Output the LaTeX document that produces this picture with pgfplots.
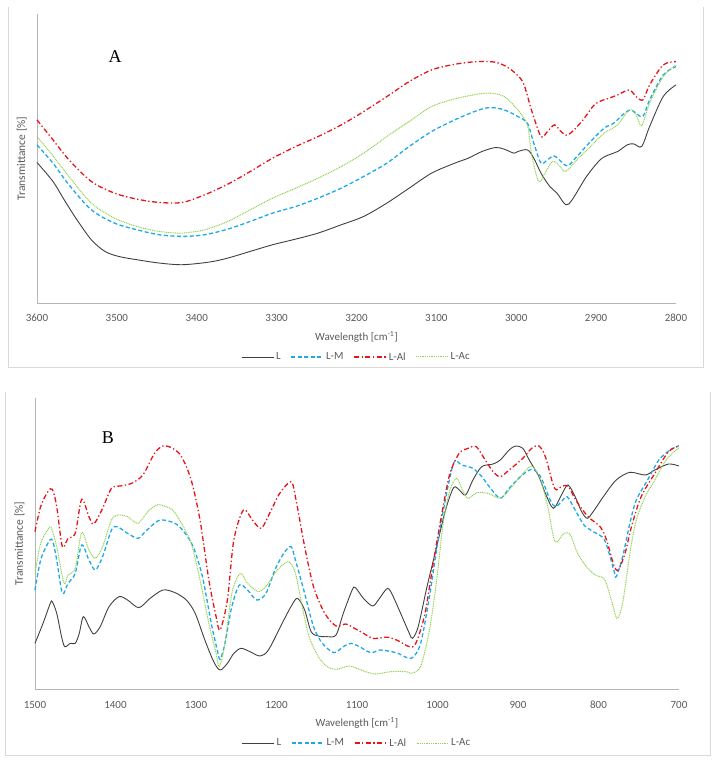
\documentclass[border=0pt]{standalone}
\usepackage{pgfplots}
\pgfplotsset{compat=1.18}
\usepackage{fontspec}
\setmainfont{Carlito}
\newfontfamily\timesfont{Liberation Serif}

\definecolor{cL}{HTML}{404040}
\definecolor{cM}{HTML}{1CA9E6}
\definecolor{cAl}{HTML}{E8141B}
\definecolor{cAc}{HTML}{92D050}
\definecolor{axgray}{HTML}{B5B5B5}
\definecolor{boxgray}{HTML}{D9D9D9}
\definecolor{txt}{HTML}{595959}

\pgfplotsset{
  irstyle/.style={
    scale only axis,
    axis x line=bottom, axis y line=left,
    axis line style={-, axgray, line width=0.9pt},
    x dir=reverse,
    ytick=\empty,
    major tick length=0pt,
    /pgf/number format/assume math mode=true,
    /pgf/number format/1000 sep={},
    tick label style={font=\fontsize{11}{13}\selectfont, text=txt},
    xticklabel style={anchor=center, yshift=-15pt},
    every axis x label/.style={at={(axis description cs:0.5,0)}, anchor=center, yshift=-34pt, font=\fontsize{11}{13}\selectfont, text=txt},
    every axis y label/.style={at={(axis description cs:-0.024,0.5)}, anchor=center, rotate=90, font=\fontsize{11.5}{13}\selectfont, text=txt},
    xlabel={Wavelength [cm\textsuperscript{-1}]},
    ylabel={Transmittance [\%]},
    legend style={draw=none, fill=none, font=\fontsize{11}{13}\selectfont, legend columns=4,
      at={(axis description cs:0.5,0)}, anchor=center, yshift=-54pt,
      /tikz/every even column/.append style={column sep=8pt}},
    legend image code/.code={\draw[##1] (0pt,0pt) -- (32pt,0pt);},
    clip=false,
  },
  sL/.style={cL, line width=0.9pt, smooth},
  sM/.style={cM, line width=1.3pt, dash pattern=on 4pt off 2.5pt, smooth},
  sAl/.style={cAl, line width=1.3pt, dash pattern=on 5pt off 2.5pt on 1.3pt off 2.5pt, smooth},
  sAc/.style={cAc, line width=1pt, dash pattern=on 1pt off 0.8pt, smooth},
}

\begin{document}
\begin{tikzpicture}[x=1pt,y=1pt]
\path[use as bounding box] (0,0) rectangle (712,763);
\draw[boxgray, line width=1pt] (8,756) -- (8,395) -- (703,395) -- (703,756);
\draw[boxgray, line width=1pt] (5,371) -- (5,7) -- (710,7) -- (710,371);

% Panel A
\begin{axis}[irstyle, at={(37pt,460pt)}, anchor=south west, width=639pt, height=289pt,
  xmin=2800, xmax=3600, ymin=0, ymax=868,
  xtick={2800,2900,...,3600}]
\addplot[sL] coordinates {(3600,422) (3580,365) (3566,310) (3550,250) (3532,190) (3515,155) (3498,140) (3475,130) (3447,120) (3418,115) (3384,123) (3361,135) (3333,155) (3305,175) (3276,192) (3248,210) (3219,235) (3191,260) (3162,300) (3134,345) (3106,390) (3077,420) (3060,435) (3043,455) (3026,467) (3015,462) (3003,450) (2998,455) (2986,460) (2978,435) (2969,390) (2958,350) (2949,330) (2938,295) (2930,310) (2912,380) (2895,430) (2884,445) (2873,455) (2861,475) (2853,478) (2843,470) (2833,530) (2816,620) (2800,655)};
\addlegendentry{\textcolor{txt}{L}}
\addplot[sM] coordinates {(3600,475) (3580,420) (3560,355) (3532,280) (3503,240) (3475,220) (3447,205) (3418,200) (3390,205) (3361,222) (3333,245) (3305,270) (3276,290) (3248,315) (3219,345) (3191,380) (3162,420) (3134,470) (3106,515) (3077,550) (3049,578) (3032,587) (3015,580) (2998,560) (2986,540) (2978,480) (2969,420) (2961,430) (2953,442) (2947,432) (2936,412) (2924,440) (2907,485) (2890,525) (2878,540) (2867,565) (2857,580) (2850,570) (2841.5,560) (2833,610) (2816,685) (2800,710)};
\addlegendentry{\textcolor{txt}{L-M}}
\addplot[sAl] coordinates {(3600,550) (3580,490) (3560,430) (3532,365) (3503,330) (3475,312) (3447,302) (3418,302) (3390,325) (3361,357) (3333,395) (3305,435) (3276,470) (3248,500) (3219,535) (3191,575) (3162,620) (3134,665) (3106,700) (3077,717) (3049,725) (3026,723) (3009,705) (2992,665) (2981,580) (2969,500) (2961,515) (2952,535) (2944,515) (2935,505) (2918,545) (2901,598) (2884,615) (2873,625) (2858.5,640) (2850,620) (2841.5,610) (2833,655) (2816,715) (2800,725)};
\addlegendentry{\textcolor{txt}{L-Al}}
\addplot[sAc] coordinates {(3600,500) (3580,442) (3560,380) (3532,300) (3503,255) (3475,230) (3447,215) (3418,210) (3390,220) (3361,245) (3333,280) (3305,315) (3276,345) (3248,375) (3219,410) (3191,450) (3162,500) (3134,545) (3106,590) (3077,613) (3049,627) (3032,630) (3015,620) (2998,580) (2986,535) (2981,450) (2972,365) (2964,390) (2955,425) (2947,415) (2938,395) (2924,430) (2907,470) (2890,510) (2873,535) (2858.5,580) (2850,565) (2843,532) (2833,600) (2816,680) (2800,715)};
\addlegendentry{\textcolor{txt}{L-Ac}}
\end{axis}

% Panel B
\begin{axis}[irstyle, at={(35pt,74pt)}, anchor=south west, width=644pt, height=291pt,
  xmin=700, xmax=1500, ymin=0, ymax=873,
  xtick={700,800,...,1500},
  xticklabel style={yshift=-1pt}]
\addplot[sL] coordinates {(1500,137) (1490,197) (1481,257) (1478.5,262) (1473,227) (1467,157) (1463,127) (1456,137) (1450,137) (1445,167) (1440,217) (1433,187) (1427,165) (1419,187) (1408,247) (1395.5,277) (1385,267) (1371,244) (1357,272) (1341,297) (1326,289) (1312,267) (1301,227) (1289,147) (1278,82) (1270,57) (1261,77) (1253,107) (1244,122) (1233,112) (1220.5,99) (1210,117) (1193,197) (1182,247) (1174,272) (1165,237) (1157,172) (1148,159) (1137,157) (1126,162) (1117,227) (1106,297) (1102,304) (1092,272) (1080.5,249) (1072,272) (1062,302) (1055,277) (1044,217) (1035,167) (1031,152) (1024,187) (1013,307) (1001,427) (990,537) (980,604) (973,597) (965,582) (956,627) (945,667) (931,675) (922,687) (911,717) (903,729) (894,722) (886,687) (874,637) (866,587) (856,542) (846,582) (838,612) (829,577) (821,532) (814,512) (806.6,532) (792.5,582) (778,627) (761,650) (742,642) (730,657) (713,675) (700,669)};
\addlegendentry{\textcolor{txt}{L}}
\addplot[sM] coordinates {(1500,297) (1493,387) (1484,437) (1478.5,447) (1473,387) (1466,287) (1459,317) (1450,347) (1442,432) (1433,387) (1425,357) (1416,397) (1405,477) (1398,487) (1385,467) (1372,452) (1363,472) (1349,502) (1341,507) (1326,497) (1315,472) (1303.5,427) (1292,337) (1281,197) (1273.6,117) (1270,89) (1264,137) (1255.5,247) (1246,312) (1236,297) (1224.5,267) (1213,287) (1202,357) (1191,407) (1182,427) (1176.5,387) (1165,287) (1154,187) (1143,137) (1128.5,109) (1117,127) (1107.6,137) (1097,127) (1083,109) (1072,117) (1061,114) (1049,107) (1032.5,92) (1021,137) (1010,277) (998.6,457) (987,607) (979,682) (970,672) (956,662) (945,637) (934,602) (922,572) (911,602) (897,637) (883,659) (872,637) (860,567) (853.5,547) (846,562) (839,577) (829,537) (818,492) (806.6,472) (792.5,447) (781,357) (778,337) (770,397) (761,497) (753,567) (739,627) (725,687) (711,717) (700,730)};
\addlegendentry{\textcolor{txt}{L-M}}
\addplot[sAl] coordinates {(1500,472) (1493,547) (1484,592) (1478.5,599) (1473,547) (1466,427) (1459,452) (1450,467) (1442,569) (1433,517) (1427,495) (1416,542) (1405,602) (1394,609) (1380,617) (1366,642) (1351.5,707) (1341,729) (1329,722) (1318,697) (1306,627) (1295,507) (1284,327) (1275,217) (1270,177) (1261,267) (1253,447) (1241,537) (1230,507) (1219,482) (1207.5,532) (1196,587) (1182,622) (1176.5,577) (1165,427) (1154,307) (1140,227) (1126,189) (1114,195) (1103,182) (1092,167) (1080.5,152) (1069,154) (1061,155) (1049,145) (1035,127) (1027,137) (1015.5,227) (1004,397) (993,547) (984.5,647) (973,707) (962,722) (952,727) (942,692) (931,652) (922,637) (911,657) (894,692) (883,722) (874,729) (866,697) (854.6,602) (846,607) (838,609) (827,562) (813,517) (798,487) (790,447) (781,372) (775.5,357) (767,407) (759,487) (747,577) (730,647) (713,712) (700,729)};
\addlegendentry{\textcolor{txt}{L-Al}}
\addplot[sAc] coordinates {(1500,347) (1493,437) (1484,477) (1480,484) (1473,427) (1464,317) (1459,342) (1450,362) (1442,469) (1433,417) (1425,392) (1416,427) (1405,507) (1397,522) (1385,517) (1372,497) (1360,532) (1349,552) (1343,552) (1329,537) (1318,497) (1306,437) (1295,327) (1284,197) (1275,107) (1271,67) (1264,137) (1255.5,287) (1245,347) (1236,317) (1222,292) (1210,317) (1199,357) (1185,382) (1176.5,347) (1168,247) (1159.5,157) (1148,97) (1137,67) (1126,59) (1109,69) (1095,57) (1078,45) (1058,52) (1038,52) (1032.5,47) (1021,67) (1010,177) (1001,327) (993,497) (984.5,597) (976,632) (969,597) (962,572) (951,589) (937,587) (922,572) (911,597) (897,637) (883,669) (872,627) (863,547) (854,442) (843,467) (835,462) (826,407) (815,367) (804,342) (792.5,329) (784,267) (777,212) (770,257) (761,407) (753,507) (742,577) (730,627) (716,687) (700,724)};
\addlegendentry{\textcolor{txt}{L-Ac}}
\end{axis}

\node[font=\timesfont\fontsize{18}{20}\selectfont] at (115,706) {A};
\node[font=\timesfont\fontsize{18}{20}\selectfont] at (108,325) {B};
\end{tikzpicture}
\end{document}
